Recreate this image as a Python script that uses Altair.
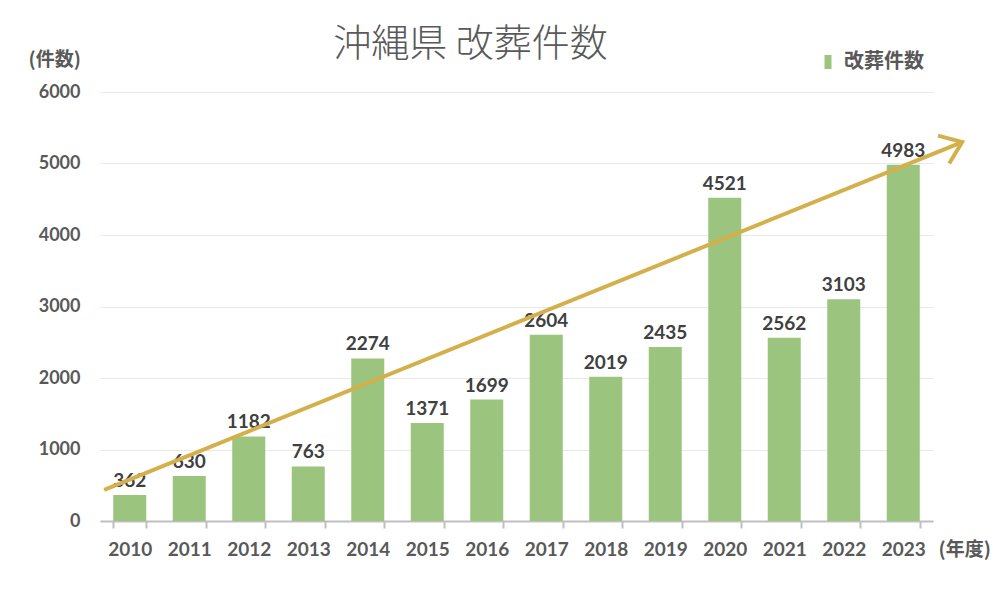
import altair as alt
import pandas as pd

years = ["2010", "2011", "2012", "2013", "2014", "2015", "2016", "2017", "2018", "2019", "2020", "2021", "2022", "2023"]
counts = [362, 630, 1182, 763, 2274, 1371, 1699, 2604, 2019, 2435, 4521, 2562, 3103, 4983]
series_name = "改葬件数"

# trend arrow (x in category-index units, y in counts)
arrow_t = [-0.43, 13.99]
arrow_v = [434, 5300]

df = pd.DataFrame({"year": years, "count": counts, "series": [series_name] * len(years)})
arrow_df = pd.DataFrame({"t": arrow_t, "v": arrow_v})
tip_df = arrow_df.tail(1)

BAR = "#9BC57E"
GOLD = "#D4B04C"
GRAY = "#595959"
NUM_FONT = "Lato"
JP_FONT = "Noto Sans CJK JP"

yscale = alt.Scale(domain=[0, 6000], nice=False)

bars = alt.Chart(df).mark_bar(color=BAR).encode(
    x=alt.X("year:N", sort=years,
            scale=alt.Scale(paddingInner=0.445, paddingOuter=0.2225),
            axis=alt.Axis(title="(年度)", labelAngle=0, tickBand="extent",
                          domainColor="#BFBFBF", domainWidth=2,
                          tickColor="#BFBFBF", tickWidth=2, tickSize=7,
                          labelFont=NUM_FONT, labelFontSize=19, labelFontWeight="bold",
                          labelColor=GRAY, labelPadding=21, labelBaseline="middle",
                          titleFont=JP_FONT, titleFontSize=19, titleFontWeight="bold",
                          titleColor=GRAY, titleAngle=0, titleAlign="left",
                          titleBaseline="middle", titleX=838, titleY=28)),
    y=alt.Y("count:Q", scale=yscale,
            axis=alt.Axis(title="(件数)", values=[0, 1000, 2000, 3000, 4000, 5000, 6000],
                          format="d",
                          domain=False, ticks=False, gridColor="#E8E8E8", gridWidth=1,
                          labelFont=NUM_FONT, labelFontSize=18, labelFontWeight="bold",
                          labelColor=GRAY, labelPadding=20,
                          titleFont=JP_FONT, titleFontSize=19, titleFontWeight="bold",
                          titleColor=GRAY, titleAngle=0, titleAlign="left",
                          titleBaseline="middle", titleX=-72, titleY=-33)),
    fill=alt.Fill("series:N", scale=alt.Scale(range=[BAR]),
                  legend=alt.Legend(title=None, orient="none", legendX=718, legendY=-40,
                                    labelFont=JP_FONT, labelFontSize=20,
                                    labelFontWeight="bold", labelColor=GRAY,
                                    symbolType="M-0.5,-1H0.5V1H-0.5Z", symbolSize=196,
                                    symbolStrokeWidth=0, labelOffset=6)),
)

labels = alt.Chart(df).mark_text(font=NUM_FONT, fontSize=19, fontWeight="bold",
                                 color="#404040", baseline="bottom", dy=-4).encode(
    x=alt.X("year:N", sort=years),
    y=alt.Y("count:Q", scale=yscale),
    text="count:Q",
)

base_layer = alt.layer(bars, labels)

tscale = alt.Scale(domain=[-0.5, 13.5], nice=False, zero=False)
line = alt.Chart(arrow_df).mark_line(color=GOLD, strokeWidth=4, clip=False).encode(
    x=alt.X("t:Q", scale=tscale, axis=None),
    y=alt.Y("v:Q", scale=yscale),
)
head = alt.Chart(tip_df).mark_point(shape="M-1,-0.75L0,0L-1,0.75", size=1600, angle=338,
                                    filled=False, color=GOLD, strokeWidth=4, opacity=1,
                                    clip=False).encode(
    x=alt.X("t:Q", scale=tscale, axis=None),
    y=alt.Y("v:Q", scale=yscale),
)

chart = alt.layer(base_layer, line, head).resolve_scale(x="independent").properties(
    width=833, height=429,
    title=alt.TitleParams("沖縄県 改葬件数", font=JP_FONT, fontSize=38, fontWeight=300,
                          color=GRAY, anchor="middle", frame="group", dx=-46, offset=-14),
    autosize=alt.AutoSizeParams(type="none"),
    padding={"left": 92, "top": 84, "right": 59, "bottom": 60},
).configure_view(stroke=None)

chart.save("out.html", embed_options={"renderer": "svg", "actions": False})
